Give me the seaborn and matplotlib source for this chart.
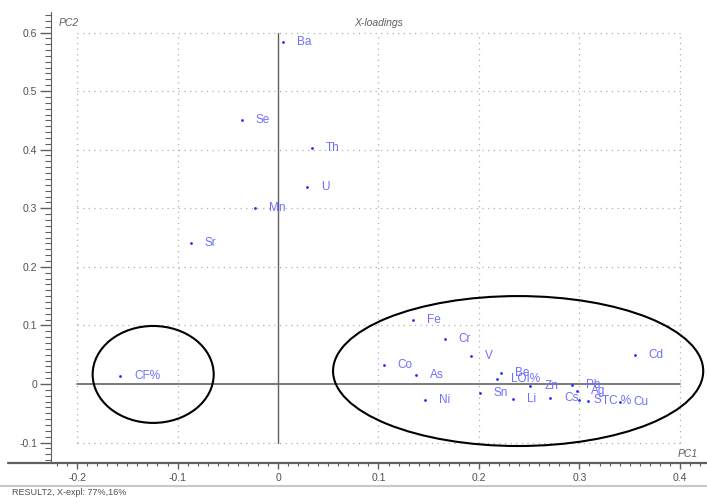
import matplotlib
matplotlib.use("Agg")
import matplotlib.pyplot as plt
from matplotlib.patches import Ellipse
from matplotlib.ticker import MultipleLocator, FixedLocator
import seaborn as sns
import pandas as pd

# ---- data ----
variables = ["Ba", "Se", "Th", "U", "Mn", "Sr", "CF%", "Fe", "Cr", "V", "Co", "As",
             "Ni", "Sn", "Be", "LOI%", "Zn", "Li", "Cs", "Pb", "Ag", "S", "TC %",
             "Cu", "Cd"]
pc1 = [0.005, -0.036, 0.034, 0.029, -0.023, -0.087, -0.157, 0.134, 0.166, 0.192,
       0.105, 0.137, 0.146, 0.201, 0.222, 0.218, 0.251, 0.234, 0.271, 0.293,
       0.298, 0.300, 0.309, 0.340, 0.355]
pc2 = [0.584, 0.451, 0.402, 0.336, 0.301, 0.241, 0.014, 0.110, 0.077, 0.047,
       0.032, 0.015, -0.028, -0.016, 0.018, 0.008, -0.003, -0.026, -0.024,
       -0.001, -0.012, -0.027, -0.029, -0.031, 0.049]
x_ticks = [-0.2, -0.1, 0.0, 0.1, 0.2, 0.3, 0.4]
x_tick_labels = ["-0.2", "-0.1", "0", "0.1", "0.2", "0.3", "0.4"]
y_ticks = [-0.1, 0.0, 0.1, 0.2, 0.3, 0.4, 0.5, 0.6]
y_tick_labels = ["-0.1", "0", "0.1", "0.2", "0.3", "0.4", "0.5", "0.6"]
# cluster ellipses: (center x, center y, width, height)
ellipse_left = (-0.1243, 0.0162, 0.1205, 0.1655)
ellipse_right = (0.239, 0.022, 0.3685, 0.256)

df = pd.DataFrame({"var": variables, "PC1": pc1, "PC2": pc2})

sns.set_style("white")
plt.rcParams["font.family"] = ["Liberation Sans", "DejaVu Sans"]

fig = plt.figure(figsize=(7.07, 4.98), dpi=100)
ax = fig.add_axes([51 / 707, 1 - 463 / 498, 1 - 51 / 707, (463 - 12) / 498])

x0, x1 = -0.226, 0.427
y0, y1 = -0.135, 0.635
ax.set_xlim(x0, x1)
ax.set_ylim(y0, y1)

grid_kw = dict(color="#b0b0b0", lw=0.9, linestyle=(0, (1, 3.5)), zorder=0)
for xv in x_ticks:
    if xv != 0:
        ax.plot([xv, xv], [y_ticks[0], y_ticks[-1]], **grid_kw)
for yv in y_ticks:
    if yv != 0:
        ax.plot([x_ticks[0], x_ticks[-1]], [yv, yv], **grid_kw)

ax.plot([x_ticks[0], x_ticks[-1]], [0, 0], color="#707070", lw=1.3, zorder=1)
ax.plot([0, 0], [y_ticks[0], y_ticks[-1]], color="#606060", lw=1.0, zorder=1)

sns.scatterplot(data=df, x="PC1", y="PC2", ax=ax, color="#2a2aff", s=4,
                linewidth=0, legend=False, zorder=3)
for name, xv, yv in zip(variables, pc1, pc2):
    ax.annotate(name, (xv, yv), xytext=(14, 0), textcoords="offset pixels",
                ha="left", va="center", fontsize=8.5, color="#6f6fff", zorder=4)

for (cx, cy, w, h) in (ellipse_left, ellipse_right):
    ax.add_patch(Ellipse((cx, cy), w, h, fill=False, edgecolor="black",
                         lw=1.5, zorder=5, clip_on=False))

ax.xaxis.set_major_locator(FixedLocator(x_ticks))
ax.set_xticklabels(x_tick_labels)
ax.yaxis.set_major_locator(FixedLocator(y_ticks))
ax.set_yticklabels(y_tick_labels)
ax.xaxis.set_minor_locator(MultipleLocator(0.01))
ax.yaxis.set_minor_locator(MultipleLocator(0.01))
ax.tick_params(axis="both", which="both", color="#606060", direction="out",
               bottom=True, left=True)
ax.tick_params(axis="x", which="major", length=4, width=1, labelsize=7.5,
               labelcolor="#505050", pad=3)
ax.tick_params(axis="x", which="minor", length=2.2, width=0.8)
ax.tick_params(axis="y", which="major", length=8, width=1, labelsize=7.5,
               labelcolor="#505050", pad=2)
ax.tick_params(axis="y", which="minor", length=4, width=0.8)

for side in ("top", "right"):
    ax.spines[side].set_visible(False)
ax.spines["left"].set_color("#606060")
ax.spines["bottom"].set_visible(False)
ax.set_xlabel("")
ax.set_ylabel("")

# bottom axis line spanning nearly the full width
fig.add_artist(plt.Line2D([8 / 707, 1], [1 - 463 / 498] * 2, color="#606060",
                          lw=1.6, transform=fig.transFigure))
fig.add_artist(plt.Line2D([0, 1], [1 - 485.5 / 498] * 2, color="#c8c8c8",
                          lw=1.5, transform=fig.transFigure))

ax.text(-0.218, 0.617, "PC2", fontsize=7.5, style="italic", color="#606060",
        transform=ax.transData, ha="left", va="center")
ax.text(0.1, 0.617, "X-loadings", fontsize=7.5, style="italic", color="#606060",
        transform=ax.transData, ha="center", va="center")
ax.text(0.4175, -0.12, "PC1", fontsize=7.5, style="italic", color="#606060",
        transform=ax.transData, ha="right", va="center")
fig.text(12 / 707, 1 - 492 / 498, "RESULT2, X-expl: 77%,16%", fontsize=6.5,
         color="#505050", ha="left", va="center")

fig.savefig("out.png", dpi=100)
